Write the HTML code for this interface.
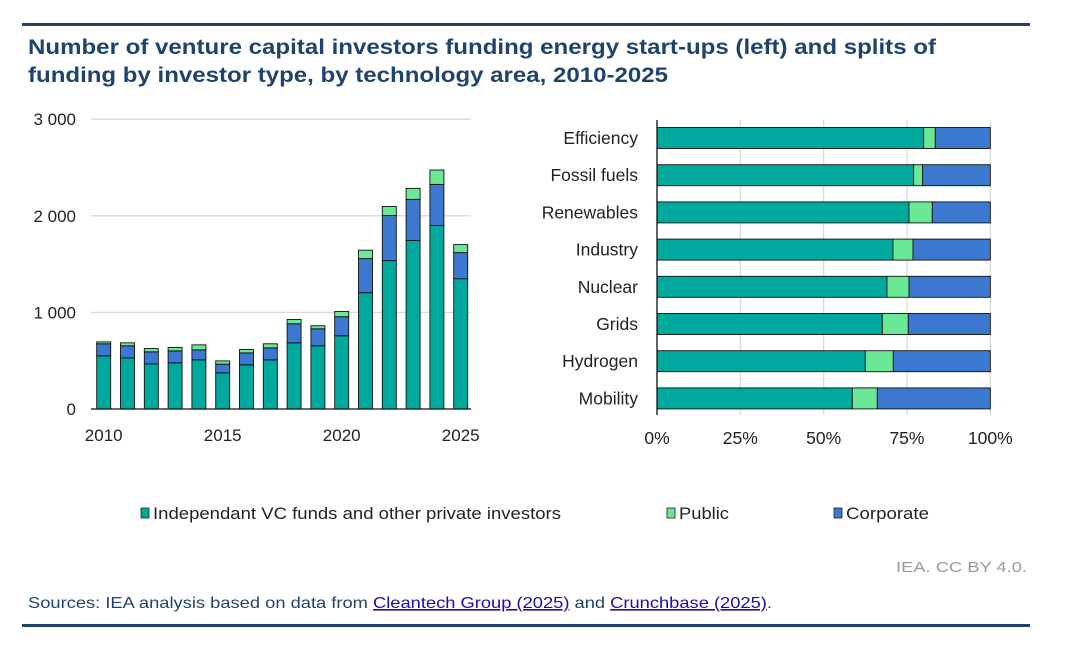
<!DOCTYPE html>
<html><head><meta charset="utf-8"><style>
body{margin:0;background:#fff;width:1067px;height:650px;overflow:hidden;font-family:"Liberation Sans",sans-serif}
svg text{font-family:"Liberation Sans",sans-serif}
</style></head><body>
<svg id="svg" width="1067" height="650">
<rect x="22" y="23" width="1008" height="3" fill="#1f436e"/>
<text x="28" y="54" font-size="21" font-weight="bold" fill="#1f436e" textLength="908" lengthAdjust="spacingAndGlyphs">Number of venture capital investors funding energy start-ups (left) and splits of</text>
<text x="28" y="82" font-size="21" font-weight="bold" fill="#1f436e" textLength="640" lengthAdjust="spacingAndGlyphs">funding by investor type, by technology area, 2010-2025</text>
<g id="left"></g>
<g id="right"></g>
<g>
<rect x="141" y="508" width="8" height="10" fill="#00a99d" stroke="#222" stroke-width="0.8"/>
<text x="153" y="519" font-size="17" fill="#222" textLength="408" lengthAdjust="spacingAndGlyphs">Independant VC funds and other private investors</text>
<rect x="667" y="508" width="8" height="10" fill="#6be895" stroke="#222" stroke-width="0.8"/>
<text x="679" y="519" font-size="17" fill="#222" textLength="50" lengthAdjust="spacingAndGlyphs">Public</text>
<rect x="834" y="508" width="8" height="10" fill="#3c78d0" stroke="#222" stroke-width="0.8"/>
<text x="846" y="519" font-size="17" fill="#222" textLength="83" lengthAdjust="spacingAndGlyphs">Corporate</text>
</g>
<text x="896" y="572" font-size="15" fill="#999" textLength="131" lengthAdjust="spacingAndGlyphs">IEA. CC BY 4.0.</text>
<text x="28" y="608" font-size="16" fill="#1f436e" textLength="744" lengthAdjust="spacingAndGlyphs">Sources: IEA analysis based on data from <tspan fill="#1a0dab" text-decoration="underline">Cleantech Group (2025)</tspan> and <tspan fill="#1a0dab" text-decoration="underline">Crunchbase (2025)</tspan>.</text>
<rect x="22" y="624" width="1008" height="3" fill="#1f436e"/>
</svg>
<script>
const years=[2010,2011,2012,2013,2014,2015,2016,2017,2018,2019,2020,2021,2022,2023,2024,2025];
const privateVals=[550,529,467,478,509,374,457,509,685,654,758,1204,1536,1744,1900,1349];
const corporateVals=[125,125,125,124,103,90,124,124,197,176,197,353,467,426,425,270];
const publicVals=[20,31,34,35,52,34,35,42,45,32,55,87,94,114,149,83];
const yTicks=[0,1000,2000,3000];
const yTickLabels=["0","1 000","2 000","3 000"];
const xTickYears=[2010,2015,2020,2025];

const areas=["Efficiency","Fossil fuels","Renewables","Industry","Nuclear","Grids","Hydrogen","Mobility"];
const privateShare=[80,77,75.6,70.8,69,67.6,62.5,58.6];
const publicShare=[3.5,2.7,7,6,6.6,7.8,8.4,7.5];
const pctTicks=[0,25,50,75,100];

const NS="http://www.w3.org/2000/svg";
const C={priv:"#00a99d",pub:"#6be895",corp:"#3c78d0"};
function mk(parent,tag,attrs){const e=document.createElementNS(NS,tag);for(const k in attrs)e.setAttribute(k,attrs[k]);parent.appendChild(e);return e;}

// left chart
const L=document.getElementById('left');
const y=v=>409-v*0.0966;
const x0=96.7,pitch=23.8,bw=14;
const xc=i=>x0+bw/2+i*pitch;
yTicks.forEach((t,i)=>{
  if(t>0){const g=mk(L,'line',{x1:91,x2:471,y1:y(t),y2:y(t),stroke:"#d9d9d9","stroke-width":1.3});
  
  }
  const tx=mk(L,'text',{x:76,y:y(t)+6,"font-size":17,fill:"#222","text-anchor":"end"});tx.textContent=yTickLabels[i];
  
  
});
years.forEach((yr,i)=>{
  const segs=[[privateVals[i],C.priv,'private'],[corporateVals[i],C.corp,'corporate'],[publicVals[i],C.pub,'public']];
  let base=0;
  segs.forEach(s=>{
    const r=mk(L,'rect',{x:xc(i)-bw/2,y:y(base+s[0]),width:bw,height:y(base)-y(base+s[0]),fill:s[1],stroke:"#111","stroke-width":0.9});
    
    
    base+=s[0];
  });
});
const ax=mk(L,'line',{x1:91,x2:471,y1:409,y2:409,stroke:"#111","stroke-width":1.3});


xTickYears.forEach(yr=>{
  const i=years.indexOf(yr);
  const t=mk(L,'text',{x:xc(i),y:441,"font-size":17,fill:"#222","text-anchor":"middle"});t.textContent=yr;
  
  
});

// right chart
const R=document.getElementById('right');
const px=p=>657+p*3.333;
const rc=i=>138+i*37.2, bh=21;
pctTicks.forEach(p=>{
  if(p>0){const g=mk(R,'line',{x1:px(p),x2:px(p),y1:120,y2:415,stroke:"#d9d9d9","stroke-width":1.3});
  
  }
  const t=mk(R,'text',{x:px(p),y:444,"font-size":17.5,fill:"#222","text-anchor":"middle"});t.textContent=p+"%";
  
  
});
areas.forEach((a,i)=>{
  const segs=[[privateShare[i],C.priv,'private'],[publicShare[i],C.pub,'public'],[100-privateShare[i]-publicShare[i],C.corp,'corporate']];
  let base=0;
  segs.forEach(s=>{
    const r=mk(R,'rect',{x:px(base),y:rc(i)-bh/2,width:px(base+s[0])-px(base),height:bh,fill:s[1],stroke:"#111","stroke-width":0.9});
    
    
    base+=s[0];
  });
  const t=mk(R,'text',{x:638,y:rc(i)+6,"font-size":17.5,fill:"#222","text-anchor":"end"});t.textContent=a;
  
  
});
const ay=mk(R,'line',{x1:657,x2:657,y1:120,y2:415,stroke:"#111","stroke-width":1.3});


</script>
</body></html>
